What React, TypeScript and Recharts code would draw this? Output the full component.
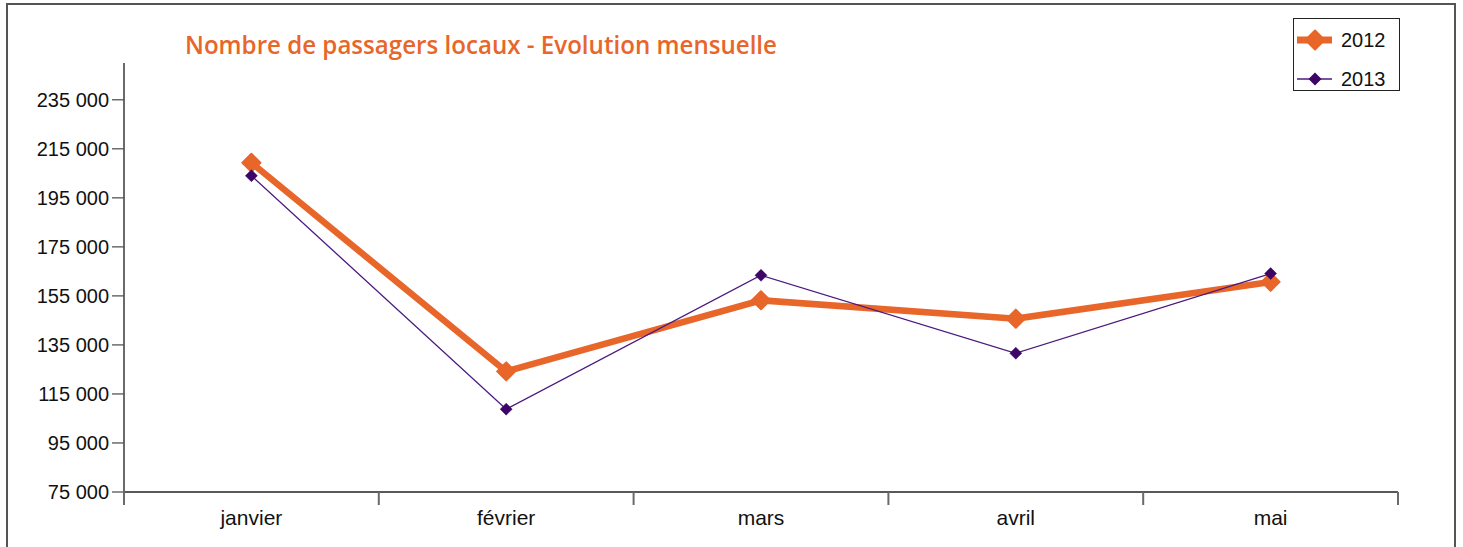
import React from 'react';
import { LineChart, Line, XAxis, YAxis, Legend } from 'recharts';

const months = ['janvier', 'février', 'mars', 'avril', 'mai'];
const passengers2012 = [209300, 124200, 153200, 145700, 160700];
const passengers2013 = [204000, 108800, 163400, 131600, 164100];
const yTicks = [75000, 95000, 115000, 135000, 155000, 175000, 195000, 215000, 235000];
const yDomain = [75000, 250000];
const categoryCentres = [0.5, 1.5, 2.5, 3.5, 4.5];
const categoryBounds = [0, 1, 2, 3, 4, 5];
const seriesNames = ['2012', '2013'];
const title = 'Nombre de passagers locaux - Evolution mensuelle';

const data = months.map((m, i) => ({
  month: m,
  pos: categoryCentres[i],
  y2012: passengers2012[i],
  y2013: passengers2013[i],
}));

const xTicks = [...categoryBounds, ...categoryCentres].sort((a, b) => a - b);

const ORANGE = '#E8662A';
const PURPLE = '#3D0566';
const PURPLE_LINE = '#4A1A7E';
const FONT = 'Liberation Sans, Arial, sans-serif';

const fmt = (v: number) => {
  const s = Math.round(v).toString();
  return s.replace(/\B(?=(\d{3})+(?!\d))/g, ' ');
};

const XTick = (props: any) => {
  const { x, y, payload } = props;
  const v = payload.value as number;
  if (Number.isInteger(v)) {
    return <line x1={x} x2={x} y1={y} y2={y + 13} stroke="#6a6a6a" strokeWidth={2} />;
  }
  const idx = Math.floor(v);
  return (
    <text x={x} y={y + 33} textAnchor="middle" fontFamily={FONT} fontSize={21} fill="#111">
      {months[idx]}
    </text>
  );
};

const makeDiamond = (r: number, fill: string, sw: number) => (props: any) => {
  const { cx, cy, index } = props;
  if (cx == null || cy == null) return <g key={index} />;
  return (
    <polygon
      key={index}
      points={`${cx},${cy - r} ${cx + r},${cy} ${cx},${cy + r} ${cx - r},${cy}`}
      fill={fill}
      stroke={fill}
      strokeWidth={sw}
      strokeLinejoin="round"
    />
  );
};

const LegendBox = () => (
  <div
    style={{
      width: 107,
      height: 73,
      border: '1.5px solid #222',
      background: '#fff',
      boxSizing: 'border-box',
      position: 'relative',
    }}
  >
    <svg width={107} height={73} style={{ position: 'absolute', left: 0, top: 0 }}>
      <line x1={3} x2={38} y1={21} y2={21} stroke={ORANGE} strokeWidth={7} />
      <polygon points="21,11.5 30.5,21 21,30.5 11.5,21" fill={ORANGE} stroke={ORANGE} strokeWidth={2} strokeLinejoin="round" />
      <text x={47} y={28} fontFamily={FONT} fontSize={20} fill="#111">{seriesNames[0]}</text>
      <line x1={3} x2={38} y1={60} y2={60} stroke={PURPLE_LINE} strokeWidth={1.3} />
      <polygon points="21,53.5 27.5,60 21,66.5 14.5,60" fill={PURPLE} />
      <text x={47} y={67} fontFamily={FONT} fontSize={20} fill="#111">{seriesNames[1]}</text>
    </svg>
  </div>
);

export default function App() {
  return (
    <div style={{ position: 'absolute', left: 0, top: 0, width: 1463, height: 547, background: '#fff', overflow: 'hidden' }}>
      <svg width={1463} height={547} style={{ position: 'absolute', left: 0, top: 0 }}>
        <rect x={7} y={4} width={1448} height={600} fill="none" stroke="#555" strokeWidth={2} />
        <text
          x={185}
          y={54}
          fontFamily="Open Sans, sans-serif"
          fontSize={25}
          fontWeight={600}
          fill={ORANGE}
          textLength={592}
          lengthAdjust="spacingAndGlyphs"
        >
          {title}
        </text>
      </svg>
      <div style={{ position: 'absolute', left: 0, top: 0 }}>
        <LineChart width={1463} height={547} data={data} margin={{ top: 63, right: 65, left: 24, bottom: 0 }}>
          <XAxis
            type="number"
            dataKey="pos"
            domain={[0, 5]}
            ticks={xTicks}
            interval={0}
            tickLine={false}
            tickSize={0}
            tickMargin={0}
            tick={<XTick />}
            axisLine={{ stroke: '#222', strokeWidth: 1.5 }}
            height={55}
            allowDecimals
          />
          <YAxis
            type="number"
            domain={yDomain}
            ticks={yTicks}
            interval={0}
            width={100}
            tickSize={12}
            tickMargin={3}
            tickFormatter={fmt}
            tickLine={{ stroke: '#555', strokeWidth: 1.3 }}
            axisLine={{ stroke: '#6a6a6a', strokeWidth: 2 }}
            tick={{ fill: '#111', fontSize: 20, fontFamily: FONT }}
            allowDataOverflow
          />
          <Legend
            layout="horizontal"
            verticalAlign="middle"
            align="center"
            content={<LegendBox />}
            wrapperStyle={{ position: 'absolute', left: 1293, top: 18, width: 107, height: 73 }}
          />
          <Line
            type="linear"
            dataKey="y2012"
            name={seriesNames[0]}
            stroke={ORANGE}
            strokeWidth={6.5}
            dot={makeDiamond(9, ORANGE, 2)}
            activeDot={false}
            isAnimationActive={false}
          />
          <Line
            type="linear"
            dataKey="y2013"
            name={seriesNames[1]}
            stroke={PURPLE_LINE}
            strokeWidth={1.3}
            dot={makeDiamond(6, PURPLE, 0.5)}
            activeDot={false}
            isAnimationActive={false}
          />
        </LineChart>
      </div>
    </div>
  );
}
